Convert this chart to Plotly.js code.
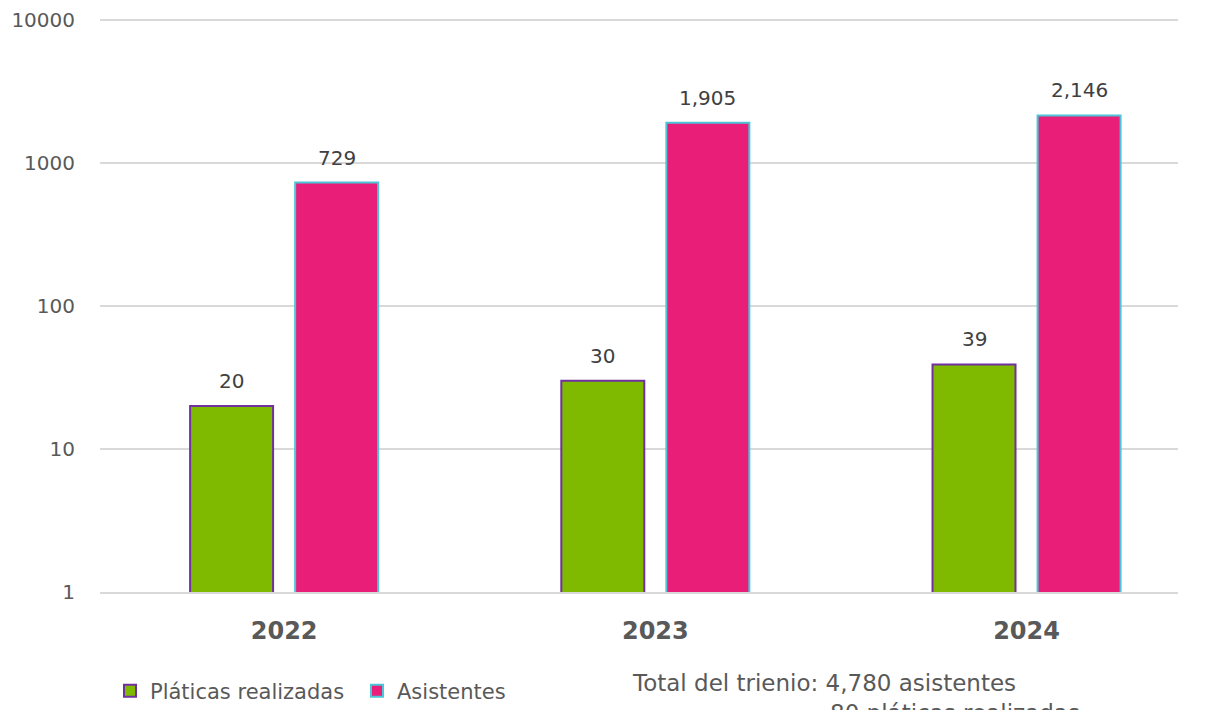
<!DOCTYPE html>
<html>
<head>
<meta charset="utf-8">
<script src="https://cdn.plot.ly/plotly-3.0.1.min.js"></script>
<style>html,body{margin:0;padding:0;background:#fff;}#chart{width:1206px;height:710px;}</style>
</head>
<body>
<div id="chart"></div>
<script>
const years = ["2022", "2023", "2024"];
const platicas = [20, 30, 39];
const asistentes = [729, 1905, 2146];
const platicasLabels = ["20", "30", "39"];
const asistentesLabels = ["729", "1,905", "2,146"];
const yTickVals = [1, 10, 100, 1000, 10000];
const yTickText = ["1", "10", "100", "1000", "10000"];
const noteLine1 = "Total del trienio: 4,780 asistentes";
const noteLine2 = "80 pláticas realizadas";

const FONT = "DejaVu Sans, Verdana, sans-serif";

const traces = [
  {
    type: "bar", name: "Pláticas realizadas", x: years, y: platicas,
    marker: {color: "#7FBA00", line: {color: "#7030A0", width: 2}},
    hoverinfo: "none"
  },
  {
    type: "bar", name: "Asistentes", x: years, y: asistentes,
    marker: {color: "#E91E78", line: {color: "#4BC6D8", width: 2}},
    hoverinfo: "none"
  }
];

const labelFont = {family: FONT, size: 20, color: "#404040"};
const annotations = [];
years.forEach((yr, i) => {
  annotations.push({x: i, y: Math.log10(platicas[i]), xref: "x", yref: "y",
    text: platicasLabels[i], showarrow: false, xshift: -52.5, yshift: 25,
    xanchor: "center", yanchor: "middle", font: labelFont});
  annotations.push({x: i, y: Math.log10(asistentes[i]), xref: "x", yref: "y",
    text: asistentesLabels[i], showarrow: false, xshift: 52.5, yshift: 25,
    xanchor: "center", yanchor: "middle", font: labelFont});
});
annotations.push(
  {xref: "paper", yref: "paper", x: (630 - 100) / 1078, y: (593 - 684) / 575,
   xanchor: "left", yanchor: "middle", showarrow: false, text: noteLine1,
   font: {family: FONT, size: 23, color: "#595959"}},
  {xref: "paper", yref: "paper", x: (828 - 100) / 1078, y: (593 - 714) / 575,
   xanchor: "left", yanchor: "middle", showarrow: false, text: noteLine2,
   font: {family: FONT, size: 23, color: "#595959"}}
);

const layout = {
  width: 1206, height: 710,
  margin: {l: 100, r: 28, t: 17, b: 118, autoexpand: false},
  paper_bgcolor: "#fff", plot_bgcolor: "#fff",
  font: {family: FONT, color: "#595959"},
  barmode: "group", bargap: 0.434, bargroupgap: 0.21,
  showlegend: true,
  legend: {
    orientation: "h", x: (110 - 100) / 1078, xanchor: "left", y: (593 - 692) / 575, yanchor: "middle",
    font: {family: FONT, size: 21, color: "#595959"}, itemwidth: 30,
    entrywidth: 202, entrywidthmode: "pixels",
    traceorder: "normal", bgcolor: "rgba(0,0,0,0)"
  },
  xaxis: {
    type: "category", range: [-0.496, 2.408],
    showgrid: false, zeroline: false, showline: true, linecolor: "#d9d9d9", linewidth: 1.5,
    ticks: "", ticklabelstandoff: 17,
    tickfont: {family: FONT, size: 24, color: "#595959", weight: "bold"}
  },
  yaxis: {
    type: "log", range: [0, 4.02],
    tickvals: yTickVals, ticktext: yTickText,
    showgrid: true, gridcolor: "#d9d9d9", gridwidth: 1.5,
    zeroline: false, showline: false, ticks: "", ticklabelstandoff: 24,
    tickfont: {family: FONT, size: 20, color: "#595959"}
  },
  annotations: annotations
};

Plotly.newPlot("chart", traces, layout, {displayModeBar: false, staticPlot: true});
</script>
</body>
</html>
